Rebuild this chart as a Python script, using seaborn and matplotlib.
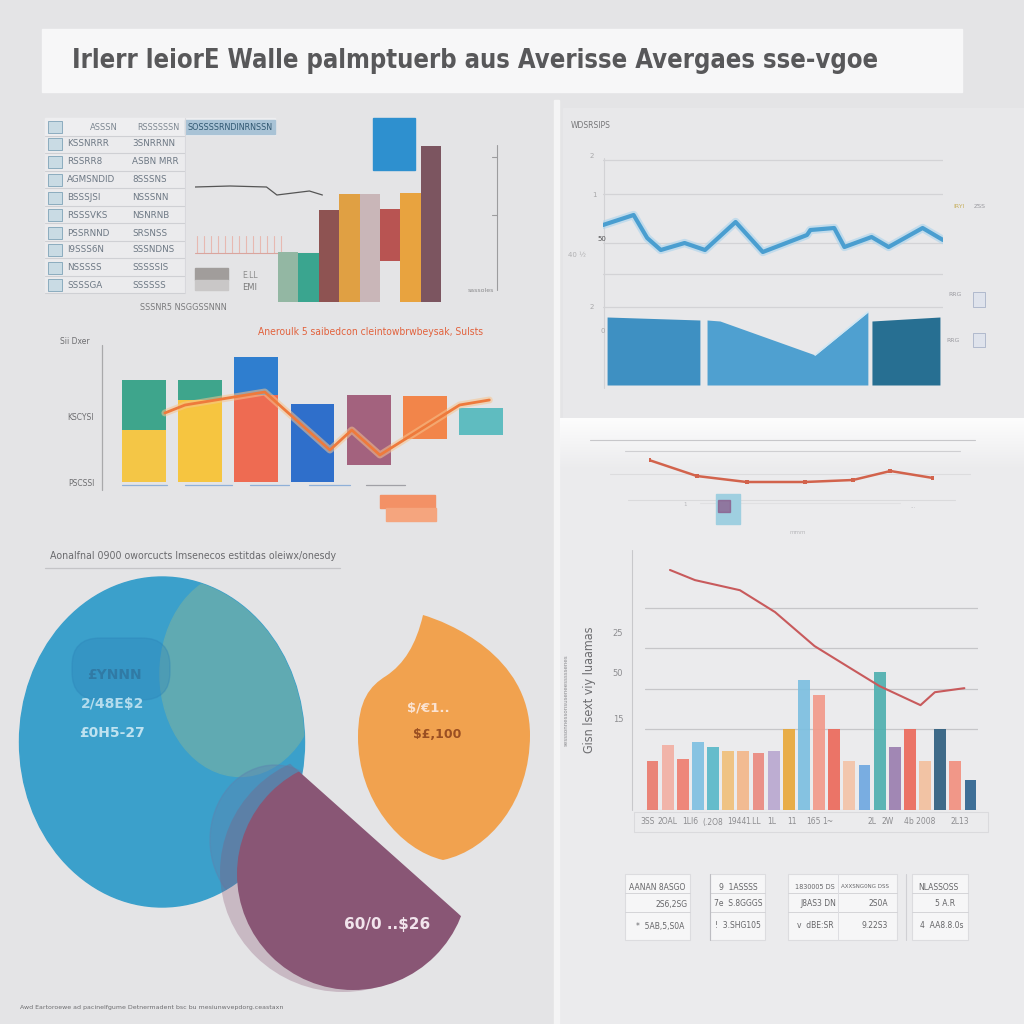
import numpy as np
import pandas as pd
import matplotlib
matplotlib.use("Agg")
import matplotlib.pyplot as plt
import seaborn as sns
from matplotlib import patches as mp
from matplotlib.path import Path
from matplotlib import patheffects as pe
from matplotlib import font_manager as fm

sns.set_theme(style="white")
plt.rcParams["font.family"] = ["DejaVu Sans"]


def condensed_props(bold=False):
    """Pick a condensed / narrow font file if one is installed."""
    cands = []
    for f in fm.fontManager.ttflist:
        name = f.fname
        if ("Narrow" in name or "Condensed" in name) and ("Oblique" not in name and "Italic" not in name):
            isbold = "Bold" in name
            if isbold == bold:
                cands.append(name)
    cands.sort(key=lambda n: (0 if "Liberation" in n else 1 if "DejaVu" in n else 2, n))
    if cands:
        return fm.FontProperties(fname=cands[0])
    return fm.FontProperties(family="Liberation Sans", weight="bold" if bold else "normal")


FP_TITLE = condensed_props(bold=True)
FP_NARROW = condensed_props(bold=False)

# ---------------------------------------------------------------- data
title_text = "Irlerr leiorE Walle palmptuerb aus Averisse Avergaes sse-vgoe"

# panel 1 : table + bars
tbl_header = ["ASSSN", "RSSSSSSN", "SOSSSSRNDINRNSSN"]
tbl_col1 = ["KSSNRRR", "RSSRR8", "AGMSNDID", "BSSSJSI", "RSSSVKS",
            "PSSRNND", "I9SSS6N", "NSSSSS", "SSSSGA"]
tbl_col2 = ["3SNRRNN", "ASBN MRR", "8SSSNS", "NSSSNN", "NSNRNB",
            "SRSNSS", "SSSNDNS", "SSSSSIS", "SSSSSS"]
p1_cats = ["a", "b", "c", "d", "e", "f", "g", "h"]
p1_heights = [50, 49, 92, 108, 108, 52, 109, 156]
p1_bottoms = [0, 0, 0, 0, 0, 41, 0, 0]
p1_colors = ["#93b7a3", "#3aa58f", "#8e5352", "#e0a043", "#c9b6b8",
             "#b85452", "#e8a33f", "#7c5560"]
p1_curve_x = [0, 27, 55, 63, 88, 98]
p1_curve_y = [13, 14, 13, 5, 9, 5]
p1_note = "SSSNR5 NSGGSSNNN"

# panel 2 : stacked bars + line
p2_title = "Aneroulk 5 saibedcon cleintowbrwbeysak, Sulsts"
p2_cats = ["A", "B", "C", "D", "E", "F", "G"]
p2_top = [10.2, 10.2, 12.5, 7.8, 8.7, 8.6, 7.4]
p2_bottom = [0, 0, 0, 0, 1.7, 4.3, 4.7]
p2_lower = [5.2, 8.2, 8.7, 0, 0, 0, 0]
p2_top_colors = ["#3ea58c", "#3ea58c", "#2f7ecf", "#2f6fcb", "#a3627e", "#f2854a", "#5fbcc0"]
p2_low_colors = ["#f4c646", "#f6c540", "#ee6b52", "#2f6fcb", "#a3627e", "#f2854a", "#5fbcc0"]
p2_line_x = [0.37, 0.73, 2.15, 3.31, 3.70, 4.2, 5.62, 6.15]
p2_line_y = [6.9, 7.7, 9.0, 3.2, 5.2, 2.7, 7.7, 8.2]
p2_yticks = ["Sii Dxer", "KSCYSI", "PSCSSI"]

# panel 3 : blobs
p3_title = "Aonalfnal 0900 oworcucts lmsenecos estitdas oleiwx/onesdy"
blue_labels = ["£YNNN", "2/48E$2", "£0H5-27"]
orange_labels = ["$/€1..", "$£,100"]
purple_label = "60/0 ..$26"
footer = "Awd Eartoroewe ad pacinelfgume Detnermadent bsc bu mesiunwvepdorg.ceastaxn"

# panel 4 : line + area
p4_title = "WDSRSIPS"
p4_x = [0, 9, 13, 17, 24, 30, 39, 47, 60, 61, 68, 71, 79, 84, 94, 100]
p4_y = [85, 95, 72, 60, 67, 60, 88, 58, 75, 80, 82, 63, 73, 63, 82, 70]
p4_grid = [150, 116, 67, 36, 3]
p4_left_x, p4_left_y = [1.2, 28.5], [68, 65]
p4_mid_x, p4_mid_y = [30.6, 34.4, 62.4, 77.9], [65, 64, 30, 73]
p4_right_x, p4_right_y = [79.1, 99.1], [64, 68]

# panel 5 : faint line
p5_x = [0, 1.01, 2.06, 3.29, 4.31, 5.1, 6]
p5_y = [70, 54, 48, 48, 50, 59, 52]

# panel 6 : bars + declining line
p6_cats = [f"c{i:02d}" for i in range(22)]
p6_vals = [1.2, 1.6, 1.25, 1.68, 1.55, 1.45, 1.45, 1.4, 1.45, 2.0, 3.2,
           2.85, 2.0, 1.2, 1.1, 3.4, 1.55, 2.0, 1.2, 2.0, 1.2, 0.75]
p6_colors = ["#ea7b6e", "#f2b0a4", "#ef7f70", "#7fc0e2", "#5ab8c8", "#f0c07a",
             "#f3b78a", "#ea8a80", "#b9a8d0", "#e8a83a", "#7cbfe0", "#f29a8a",
             "#ec6a5c", "#f3c3a8", "#6fa8e0", "#4fb0b0", "#9b7fb0", "#ec6a5c",
             "#f3c09e", "#2f5f80", "#f29080", "#2f6590"]
p6_line_x = [1.15, 2.8, 5.77, 8.09, 10.7, 13.04, 15.0, 17.7, 18.65, 20.6]
p6_line_y = [5.93, 5.68, 5.43, 4.89, 4.05, 3.51, 3.06, 2.59, 2.91, 3.01]
p6_grid = [2, 3, 4, 5]
p6_ytick_labels = ["25", "50", "15"]
p6_xtick_labels = ["3SS", "2OAL", "1LI6", "(.2O8", "1944", "1.LL", "1L", "11",
                   "165", "1~", "2L", "2W", "4b 2008", "2L13"]
p6_ylabel = "Gisn lsext viy luaamas"

# panel 7 : table
p7_cells = ["AANAN 8ASGO", "2S6,2SG", "*  5AB,5,S0A",
            "9  1ASSSS", "7e  S.8GGGS", "!  3.SHG105",
            "1830005 DS", "AXXSNG0NG DSS", "J8AS3 DN", "2S0A", "v  dBE:SR", "9.22S3",
            "NLASSOSS", "5 A.R", "4  AA8.8.0s"]

# ---------------------------------------------------------------- figure
W = H = 1024
fig = plt.figure(figsize=(10.24, 10.24), dpi=100)
fig.patch.set_facecolor("#e4e4e6")


def rect(x0, y0, x1, y1):
    return [x0 / W, 1 - y1 / H, (x1 - x0) / W, (y1 - y0) / H]


def pax(x0, y0, x1, y1):
    ax = fig.add_axes(rect(x0, y0, x1, y1))
    ax.patch.set_alpha(0)
    for s in ax.spines.values():
        s.set_visible(False)
    ax.tick_params(left=False, bottom=False, labelleft=False, labelbottom=False)
    return ax


def clean(ax):
    ax.set_xlabel("")
    ax.set_ylabel("")
    ax.set_xticks([])
    ax.set_yticks([])
    ax.grid(False)


bg = fig.add_axes([0, 0, 1, 1])
bg.set_xlim(0, W)
bg.set_ylim(H, 0)
bg.axis("off")

# backgrounds
bg.add_patch(mp.Rectangle((560, 418), 464, 606, color="#ebebed", zorder=0))
bg.add_patch(mp.Rectangle((563, 108), 461, 310, color="#e8e8ea", zorder=0))
bg.add_patch(mp.Rectangle((554, 100), 5, 924, color="#f4f4f5", zorder=1))
bg.add_patch(mp.Rectangle((42, 29), 920, 63, color="#f7f7f8", zorder=1))
grad = np.linspace(1, 0, 60).reshape(-1, 1)
glow = np.ones((60, 1, 4))
glow[..., 3] = grad * 0.9
bg.imshow(glow, extent=(560, 1024, 470, 418), aspect="auto", zorder=1)

# ---------------- panel 1 decorations (table)
bg.add_patch(mp.Rectangle((45, 118), 140, 175, color="#ebebed", zorder=1))
bg.add_patch(mp.Rectangle((45, 118), 230, 17, color="#eeeef0", zorder=1))
bg.add_patch(mp.Rectangle((185, 120), 90, 14, color="#a9c3d6", zorder=2))
for yy in [136, 153, 171, 188, 206, 223, 241, 258, 276, 293]:
    bg.plot([45, 185], [yy, yy], color="#cfd0d4", lw=0.8, zorder=2)
bg.plot([185, 185], [118, 293], color="#d8d8dc", lw=0.8, zorder=2)
row_y = [144, 162, 180, 198, 215, 233, 250, 268, 285]
for yy in [127] + row_y:
    bg.add_patch(mp.Rectangle((48, yy - 6), 14, 12, facecolor="#c9dbe4",
                              edgecolor="#7fa3b8", lw=0.6, zorder=3))
bg.add_patch(mp.Rectangle((195, 268), 33, 12, color="#a19d9b", zorder=2))
bg.add_patch(mp.Rectangle((195, 280), 33, 10, color="#c9c7c7", zorder=2))
for xx in range(197, 282, 7):
    bg.plot([xx, xx], [236, 253], color="#e7b9b1", lw=0.8, zorder=2)
bg.plot([195, 330], [253, 253], color="#d9a59e", lw=0.8, zorder=2)
bg.add_patch(mp.Rectangle((373, 118), 42, 52, color="#2e90cf", zorder=2))
bg.plot([497, 497], [145, 290], color="#9c9c9e", lw=0.8, zorder=2)
for yy in [157, 215]:
    bg.plot([492, 497], [yy, yy], color="#9c9c9e", lw=0.8, zorder=2)

# ---------------- panel 2 decorations
bg.plot([102, 102], [345, 490], color="#a9a9ab", lw=0.9, zorder=2)
for xa, xb, c in [(122, 167, "#8fb0d8"), (185, 232, "#8fb0d8"), (250, 289, "#8fb0d8"),
                  (309, 350, "#8fb0d8"), (366, 405, "#a0a0a6")]:
    bg.plot([xa, xb], [485, 485], color=c, lw=0.9, zorder=2)
bg.add_patch(mp.Rectangle((380, 495), 55, 13, color="#f39166", zorder=2))
bg.add_patch(mp.Rectangle((386, 508), 50, 13, color="#f5a57e", zorder=2))

# ---------------- panel 3 blobs
bg.plot([45, 340], [568, 568], color="#c4c4c7", lw=0.9, zorder=2)
blue = mp.Ellipse((162, 742), 285, 330, color="#3ba0cb", zorder=2)
bg.add_patch(blue)
teal = mp.Ellipse((240, 674), 160, 205, color="#60aab2", zorder=3)
bg.add_patch(teal)
teal.set_clip_path(blue)
shade = mp.Ellipse((275, 840), 130, 150, color="#5c84b0", alpha=0.45, zorder=3)
bg.add_patch(shade)
shade.set_clip_path(blue)
inner = mp.FancyBboxPatch((72, 638), 98, 62, boxstyle="round,pad=0,rounding_size=28",
                          color="#2c83b8", alpha=0.35, zorder=3)
bg.add_patch(inner)

clip_poly = mp.Polygon([(128, 619), (629, 1066), (100, 1066), (100, 619)],
                       transform=bg.transData)
purple_soft = mp.Ellipse((343, 872), 246, 240, color="#895675", alpha=0.3, lw=0, zorder=4)
bg.add_patch(purple_soft)
purple_soft.set_clip_path(clip_poly)
purple = mp.Circle((353, 874), 116, color="#895675", lw=0, zorder=4)
bg.add_patch(purple)
purple.set_clip_path(clip_poly)

leaf_verts = [(423, 615),
              (447, 622), (530, 655), (530, 735),
              (530, 800), (490, 850), (443, 860),
              (400, 850), (358, 800), (358, 737),
              (358, 700), (370, 686), (386, 676),
              (404, 664), (416, 645), (423, 615)]
leaf_codes = [Path.MOVETO] + [Path.CURVE4] * 15
bg.add_patch(mp.PathPatch(Path(leaf_verts, leaf_codes), color="#f1a24f", lw=0, zorder=4))

# ---------------- panel 4 decorations
bg.plot([604, 604], [158, 388], color="#d2d2d5", lw=0.8, zorder=2)
bg.add_patch(mp.Rectangle((973, 292), 12, 15, facecolor="#dfe3ec", edgecolor="#a8b2c8", lw=0.6, zorder=2))
bg.add_patch(mp.Rectangle((973, 333), 12, 14, facecolor="#dfe3ec", edgecolor="#a8b2c8", lw=0.6, zorder=2))

# ---------------- panel 5 decorations
for ya, xa, xb, c in [(440, 590, 975, "#c7c7ca"), (451, 625, 960, "#cfcfd2"),
                      (474, 610, 970, "#dcdcde"), (500, 628, 955, "#dadadc"),
                      (503, 700, 900, "#e0e0e2")]:
    bg.plot([xa, xb], [ya, ya], color=c, lw=0.8, zorder=2)
bg.add_patch(mp.Rectangle((716, 494), 24, 30, color="#9fcfe0", zorder=3))
bg.add_patch(mp.Rectangle((718, 500), 12, 12, color="#8a5a8a", alpha=0.75, zorder=3))

# ---------------- panel 6 decorations
bg.plot([632, 632], [550, 810], color="#c8c8cb", lw=0.8, zorder=2)
bg.add_patch(mp.Rectangle((634, 812), 354, 20, facecolor="none", edgecolor="#dadadd", lw=0.8, zorder=2))

# ---------------- panel 7 table cells
for xa, xb in [(625, 690), (710, 765), (788, 897), (912, 968)]:
    bg.add_patch(mp.Rectangle((xa, 874), xb - xa, 66, facecolor="#f6f6f7",
                              edgecolor="#dcdcdf", lw=0.8, zorder=2))
    for yy in [893, 912]:
        bg.plot([xa, xb], [yy, yy], color="#d4d4d8", lw=0.7, zorder=3)
bg.plot([710, 710], [874, 940], color="#bdbdc2", lw=0.8, zorder=3)
bg.plot([906, 906], [874, 940], color="#d0d0d4", lw=0.8, zorder=3)
bg.plot([838, 838], [874, 940], color="#dedee2", lw=0.7, zorder=3)

# ---------------------------------------------------------------- seaborn charts
# panel 1 bars
ax1 = pax(278, 118, 441, 302)
n0 = len(ax1.patches)
sns.barplot(x=p1_cats, y=p1_heights, order=p1_cats, bottom=p1_bottoms, color="#888888",
            width=1.0, saturation=1, errorbar=None, ax=ax1)
for p, c in zip(ax1.patches[n0:], p1_colors):
    p.set_facecolor(c)
    p.set_edgecolor("none")
ax1.set_xlim(-0.5, 7.5)
ax1.set_ylim(0, 184)
clean(ax1)

ax1c = pax(195, 175, 325, 200)
sns.lineplot(x=p1_curve_x, y=p1_curve_y, color="#555555", lw=0.9, ax=ax1c)
ax1c.set_xlim(0, 100)
ax1c.set_ylim(0, 25)
clean(ax1c)

# panel 2 stacked / floating bars (bar length = top - bottom)
p2_len = [t - b for t, b in zip(p2_top, p2_bottom)]
ax2 = pax(116, 345, 509, 482)
n0 = len(ax2.patches)
sns.barplot(x=p2_cats, y=p2_len, order=p2_cats, bottom=p2_bottom, color="#888888",
            width=0.78, saturation=1, errorbar=None, ax=ax2)
n1 = len(ax2.patches)
sns.barplot(x=p2_cats, y=p2_lower, order=p2_cats, color="#888888",
            width=0.78, saturation=1, errorbar=None, ax=ax2)
for p, c in zip(ax2.patches[n0:n1], p2_top_colors):
    p.set_facecolor(c)
    p.set_edgecolor("none")
for p, c in zip(ax2.patches[n1:], p2_low_colors):
    p.set_facecolor(c)
    p.set_edgecolor("none")
ax2.set_xlim(-0.5, 6.5)
ax2.set_ylim(0, 13.7)
clean(ax2)

ax2l = pax(116, 345, 509, 482)
sns.lineplot(x=p2_line_x, y=p2_line_y, sort=False, color="#ee7a3c", lw=2.0, ax=ax2l,
             path_effects=[pe.Stroke(linewidth=5, foreground="#f7c48e", alpha=0.55), pe.Normal()])
ax2l.set_xlim(-0.5, 6.5)
ax2l.set_ylim(0, 13.7)
clean(ax2l)

# panel 4 line chart
ax4 = pax(603, 150, 943, 310)
for v in p4_grid:
    ax4.axhline(v, color="#d3d3d6", lw=0.9, zorder=0)
sns.lineplot(x=p4_x, y=p4_y, color="#4a9ed0", lw=3.0, ax=ax4,
             path_effects=[pe.Stroke(linewidth=6, foreground="#a9d3ec", alpha=0.6), pe.Normal()])
ax4.set_xlim(0, 100)
ax4.set_ylim(0, 160)
clean(ax4)

ax4b = pax(603, 300, 943, 385)
ax4b.fill_between(p4_left_x, p4_left_y, color="#3e90c2", lw=0)
ax4b.fill_between(p4_mid_x, p4_mid_y, color="#4fa0d0", lw=0)
ax4b.fill_between(p4_right_x, p4_right_y, color="#276f92", lw=0)
sns.lineplot(x=p4_mid_x[2:], y=p4_mid_y[2:], color="#cfe6f3", lw=1.2, ax=ax4b)
ax4b.set_xlim(0, 100)
ax4b.set_ylim(0, 85)
clean(ax4b)

# panel 5 faint red line
ax5 = pax(649, 435, 933, 530)
sns.lineplot(x=p5_x, y=p5_y, color="#d2634c", lw=1.8, marker="s", markersize=3,
             markeredgewidth=0, ax=ax5)
ax5.set_xlim(0, 6)
ax5.set_ylim(0, 95)
clean(ax5)

# panel 6 bars + line
ax6 = pax(645, 555, 978, 810)
for v in p6_grid:
    ax6.axhline(v, color="#c6c6c9", lw=0.9, zorder=0)
ax6.axhline(0, color="#cfcfd2", lw=0.9, zorder=0)
n0 = len(ax6.patches)
sns.barplot(x=p6_cats, y=p6_vals, order=p6_cats, color="#888888", width=0.78,
            saturation=1, errorbar=None, ax=ax6, zorder=2)
for p, c in zip(ax6.patches[n0:], p6_colors):
    p.set_facecolor(c)
    p.set_edgecolor("none")
    p.set_alpha(0.92)
ax6.set_xlim(-0.5, 21.5)
ax6.set_ylim(0, 6.3)
clean(ax6)

ax6l = pax(645, 555, 978, 810)
sns.lineplot(x=p6_line_x, y=p6_line_y, sort=False, color="#c85a5c", lw=1.5, ax=ax6l)
ax6l.set_xlim(-0.5, 21.5)
ax6l.set_ylim(0, 6.3)
clean(ax6l)

# ---------------------------------------------------------------- text layer
fg = fig.add_axes([0, 0, 1, 1])
fg.set_xlim(0, W)
fg.set_ylim(H, 0)
fg.axis("off")
fg.patch.set_alpha(0)
renderer = fig.canvas.get_renderer()


def ftext(x, y, s, width=None, size=7, **kw):
    kw.setdefault("va", "center")
    t = fg.text(x, y, s, fontsize=size, **kw)
    if width:
        bb = t.get_window_extent(renderer=renderer)
        if bb.width > 0:
            t.set_fontsize(size * width / bb.width)
    return t


ftext(72, 61, title_text, width=808, size=24, color="#58585a",
      fontproperties=FP_TITLE.copy())

# panel 1 texts
ftext(90, 127, tbl_header[0], width=28, size=6, color="#7d8791")
ftext(137, 127, tbl_header[1], width=43, size=6, color="#7d8791")
ftext(188, 127, tbl_header[2], width=86, size=6, color="#2f5670")
for yy, a, b in zip(row_y, tbl_col1, tbl_col2):
    ftext(67, yy, a, size=6.3, color="#6d7884")
    ftext(132, yy, b, size=6.3, color="#6d7884")
ftext(242, 276, "E.LL", size=5.5, color="#8b8b8b")
ftext(242, 287, "EMI", size=6, color="#7b7b7b")
ftext(140, 308, p1_note, width=88, size=6, color="#7b7b7d")
ftext(468, 290, "sassoles", size=4.5, color="#8b8b8d")

# panel 2 texts
ftext(258, 332, p2_title, width=224, size=8, color="#e2623d",
      fontproperties=FP_NARROW.copy())
ftext(60, 342, p2_yticks[0], size=5.5, color="#6d6d70")
ftext(67, 418, p2_yticks[1], size=5.5, color="#6d6d70")
ftext(68, 483, p2_yticks[2], size=5.5, color="#6d6d70")

# panel 3 texts
ftext(50, 556, p3_title, width=286, size=8, color="#6a6a6d",
      fontproperties=FP_NARROW.copy())
ftext(114, 675, blue_labels[0], size=10, color="#2f6f98", ha="center", weight="bold", alpha=0.7)
ftext(113, 704, blue_labels[1], size=10, color="#b4dced", ha="center", weight="bold")
ftext(112, 733, blue_labels[2], size=10, color="#bfe2f0", ha="center", weight="bold")
ftext(428, 708, orange_labels[0], size=9.5, color="#fbe3d2", ha="center", weight="bold")
ftext(437, 735, orange_labels[1], size=9, color="#9a4f22", ha="center", weight="bold")
ftext(387, 925, purple_label, size=11, color="#f1e4ec", ha="center", weight="bold")
ftext(20, 1007, footer, width=262, size=5, color="#6d6d70")

# panel 4 texts
ftext(571, 125, p4_title, size=5.5, color="#767678")
for x, y, s, c in [(592, 156, "2", "#a8a8aa"), (594, 195, "1", "#a8a8aa"),
                   (602, 239, "50", "#555557"), (577, 255, "40 ½", "#b0b0b2"),
                   (592, 307, "2", "#a8a8aa"), (603, 331, "0", "#a8a8aa")]:
    ftext(x, y, s, size=5, color=c, ha="center")
ftext(953, 207, "IRYI", size=4.5, color="#c8b060")
ftext(974, 207, "ZSS", size=4.5, color="#9a9aa0")
ftext(948, 295, "RRG", size=4.5, color="#9a9aa0")
ftext(946, 340, "RRG", size=4.5, color="#9a9aa0")

# panel 5 texts
for x, y, s in [(683, 505, "1"), (790, 532, "mmm"), (910, 507, "...")]:
    ftext(x, y, s, size=4, color="#b8b8bb")

# panel 6 texts
for (y, s) in zip([633, 674, 720], p6_ytick_labels):
    ftext(618, y, s, size=6, color="#8d8d90", ha="center")
for x, s in zip([648, 668, 690, 713, 737, 753, 772, 792, 813, 828, 872, 888, 920, 960],
                p6_xtick_labels):
    ftext(x, 822, s, size=5.5, color="#8d8d90", ha="center")
ftext(590, 690, p6_ylabel, size=9, color="#6d6d70", rotation=90, ha="center",
      fontproperties=FP_NARROW.copy())
ftext(566, 700, "sesssonnessonsuseneesssssenes", size=4, color="#8a8a8e",
      rotation=90, ha="center")

# panel 7 texts
cell_pos = [(657, 887), (672, 904), (660, 926),
            (738, 887), (738, 904), (738, 926),
            (815, 887), (865, 887), (818, 904), (878, 904), (815, 926), (875, 926),
            (938, 887), (945, 904), (942, 926)]
cell_w = {6: 40, 7: 48}
for i, ((x, y), s) in enumerate(zip(cell_pos, p7_cells)):
    ftext(x, y, s, width=cell_w.get(i), size=5.5, color="#666669", ha="center")

fig.savefig("out.png", dpi=100, facecolor=fig.get_facecolor())
